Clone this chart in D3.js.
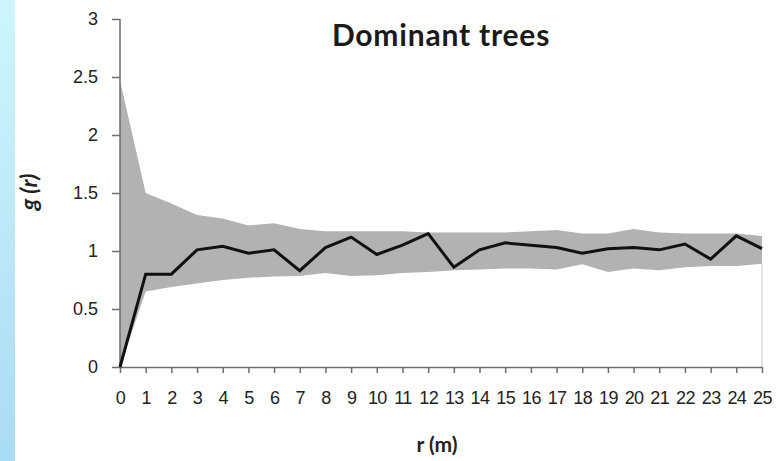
<!DOCTYPE html>
<html>
<head>
<meta charset="utf-8">
<script src="https://cdn.jsdelivr.net/npm/d3@7"></script>
<style>
  body { margin: 0; background: #fff; }
  svg { display: block; font-family: Lato, "Open Sans", sans-serif; }
</style>
</head>
<body>
<svg id="chart"></svg>
<script>
const size = { w: 778, h: 461 };
const plot = { l: 120, r: 762, t: 19, b: 367 };

const distances = d3.range(0, 26);
const gValues = [0, 0.8, 0.8, 1.01, 1.04, 0.98, 1.01, 0.83, 1.03, 1.12, 0.97, 1.05, 1.15, 0.86, 1.01,
  1.07, 1.05, 1.03, 0.98, 1.02, 1.03, 1.01, 1.06, 0.93, 1.13, 1.02];
const upperEnv = [2.47, 1.5, 1.41, 1.31, 1.28, 1.22, 1.24, 1.19, 1.17, 1.17, 1.17, 1.17, 1.16, 1.16, 1.16,
  1.16, 1.17, 1.18, 1.15, 1.15, 1.19, 1.16, 1.15, 1.15, 1.15, 1.13];
const lowerEnv = [0, 0.65, 0.69, 0.72, 0.75, 0.77, 0.78, 0.785, 0.81, 0.785, 0.79, 0.81, 0.82, 0.835, 0.84,
  0.85, 0.85, 0.84, 0.885, 0.82, 0.85, 0.835, 0.86, 0.87, 0.87, 0.89];
const yTicks = [0, 0.5, 1, 1.5, 2, 2.5, 3];

const svg = d3.select("svg#chart").attr("width", size.w).attr("height", size.h);

// light blue strip on the left edge
const grad = svg.append("defs").append("linearGradient")
  .attr("id", "strip").attr("x1", 0).attr("y1", 0).attr("x2", 0).attr("y2", 1);
grad.append("stop").attr("offset", "0%").attr("stop-color", "#cef5fd");
grad.append("stop").attr("offset", "100%").attr("stop-color", "#a9dbf4");
svg.append("rect").attr("x", 0).attr("y", 0).attr("width", 15).attr("height", size.h)
  .attr("fill", "url(#strip)");

const x = d3.scaleLinear().domain([0, 25]).range([plot.l, plot.r]);
const y = d3.scaleLinear().domain([0, 3]).range([plot.b, plot.t]);

const data = distances.map((r, i) => ({ r: r, g: gValues[i], hi: upperEnv[i], lo: lowerEnv[i] }));

// envelope
const area = d3.area().x((d) => x(d.r)).y0((d) => y(d.lo)).y1((d) => y(d.hi));
svg.append("path").datum(data).attr("d", area).attr("fill", "#b2b2b2");

// right edge of the envelope area
svg.append("line")
  .attr("x1", x(25)).attr("x2", x(25))
  .attr("y1", y(lowerEnv[25])).attr("y2", y(0))
  .attr("stroke", "#c8c8c8").attr("stroke-width", 1);

// axes
const yAxis = svg.append("g").attr("transform", `translate(${plot.l}, 0)`)
  .call(d3.axisLeft(y).tickValues(yTicks).tickSize(8).tickPadding(14).tickFormat(d3.format("")));
const xAxis = svg.append("g").attr("transform", `translate(0, ${plot.b})`)
  .call(d3.axisBottom(x).tickValues(distances).tickSize(6).tickPadding(20).tickSizeOuter(0));

[yAxis, xAxis].forEach((g) => {
  g.select(".domain").attr("stroke", "#6e6e6e").attr("stroke-width", 1.5);
  g.selectAll(".tick line").attr("stroke", "#6e6e6e").attr("stroke-width", 1.5);
  g.selectAll(".tick text").attr("fill", "#222").style("font-size", "18px");
});
yAxis.select(".domain").attr("d", `M0,${plot.b}V${plot.t}`);
xAxis.selectAll(".tick text").attr("dy", "0.6em").style("letter-spacing", "-0.6px");

// g(r) line
const line = d3.line().x((d) => x(d.r)).y((d) => y(d.g));
svg.append("path").datum(data).attr("d", line)
  .attr("fill", "none").attr("stroke", "#111").attr("stroke-width", 3)
  .attr("stroke-linejoin", "miter");

// texts
svg.append("text").attr("x", 441).attr("y", 46).attr("text-anchor", "middle")
  .attr("font-weight", "bold").attr("font-size", 30).attr("letter-spacing", 0.8).attr("fill", "#1a1a1a")
  .text("Dominant trees");

svg.append("text").attr("x", 437).attr("y", 452).attr("text-anchor", "middle")
  .attr("font-weight", "bold").attr("font-size", 21).attr("fill", "#222")
  .text("r (m)");

svg.append("text").attr("transform", "translate(37, 192) rotate(-90)")
  .attr("text-anchor", "middle").attr("font-weight", "bold").attr("font-style", "italic")
  .attr("font-size", 23).attr("fill", "#222")
  .text("g (r)");
</script>
</body>
</html>
